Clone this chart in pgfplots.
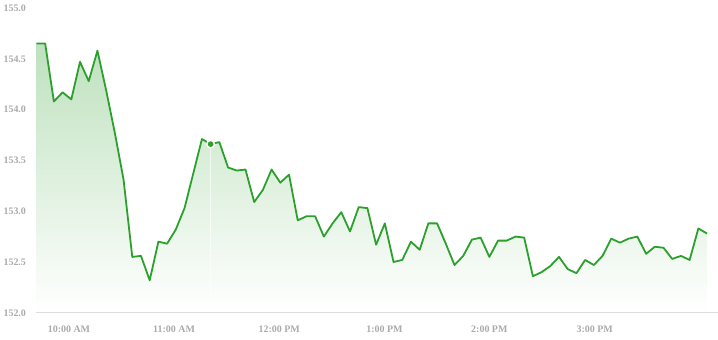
\documentclass[border=0pt]{standalone}
\usepackage{pgfplots}
\usepackage{pgfplotstable}
\pgfplotsset{compat=1.18}
\usepackage{fontspec}
\setmainfont{Liberation Serif}
\definecolor{linegreen}{RGB}{44,160,44}
\definecolor{filltop}{RGB}{190,225,190}
\definecolor{labelgray}{RGB}{170,170,170}
\definecolor{axisgray}{RGB}{221,221,221}
\pgfplotstableread{
i v
0 154.65
1 154.65
2 154.08
3 154.17
4 154.10
5 154.47
6 154.28
7 154.58
8 154.19
9 153.77
10 153.31
11 152.55
12 152.56
13 152.32
14 152.70
15 152.68
16 152.82
17 153.03
18 153.37
19 153.71
20 153.66
21 153.68
22 153.43
23 153.40
24 153.41
25 153.09
26 153.21
27 153.41
28 153.28
29 153.36
30 152.91
31 152.95
32 152.95
33 152.75
34 152.88
35 152.99
36 152.80
37 153.04
38 153.03
39 152.67
40 152.88
41 152.50
42 152.52
43 152.70
44 152.62
45 152.88
46 152.88
47 152.68
48 152.47
49 152.56
50 152.72
51 152.74
52 152.55
53 152.71
54 152.71
55 152.75
56 152.74
57 152.36
58 152.40
59 152.46
60 152.55
61 152.43
62 152.39
63 152.52
64 152.47
65 152.56
66 152.73
67 152.69
68 152.73
69 152.75
70 152.58
71 152.65
72 152.64
73 152.53
74 152.56
75 152.52
76 152.83
77 152.78
}\pricedata
\begin{document}
\begin{tikzpicture}
\begin{axis}[
  name=ax,
  scale only axis,
  width=681.5bp, height=305bp,
  xmin=0, xmax=78.2,
  ymin=152, ymax=155,
  axis on top,
  axis x line*=bottom,
  axis y line*=left,
  x axis line style={draw=axisgray, line width=1bp},
  y axis line style={draw=none},
  major tick length=0pt,
  ytick={152,152.5,...,155},
  yticklabel style={/pgf/number format/fixed, /pgf/number format/fixed zerofill, /pgf/number format/precision=1, xshift=-7bp},
  /pgf/number format/assume math mode=true,
  ticklabel style={font=\bfseries\fontsize{10}{12}\selectfont, text=labelgray},
  xtick={3.73,15.80,27.88,39.95,52.0,64.1},
  xticklabels={10:00 AM,11:00 AM,12:00 PM,1:00 PM,2:00 PM,3:00 PM},
  xticklabel style={yshift=-10bp},
  grid=none,
  clip=false,
]
\addplot[draw=none, top color=filltop, bottom color=white] table[x=i,y=v]{\pricedata} \closedcycle;
\addplot[white, opacity=0.6, line width=1bp] coordinates {(20,153.66) (20,152.02)};
\addplot[linegreen, line width=1.8bp, line join=round] table[x=i,y=v]{\pricedata};
\addplot[only marks, mark=*, mark size=3.8bp, mark options={draw=white, fill=linegreen, line width=1.5bp}] coordinates {(20,153.66)};
\end{axis}
\path ([xshift=-36.5bp,yshift=-27bp]ax.south west) rectangle ([yshift=8bp]ax.north east);
\end{tikzpicture}
\end{document}
